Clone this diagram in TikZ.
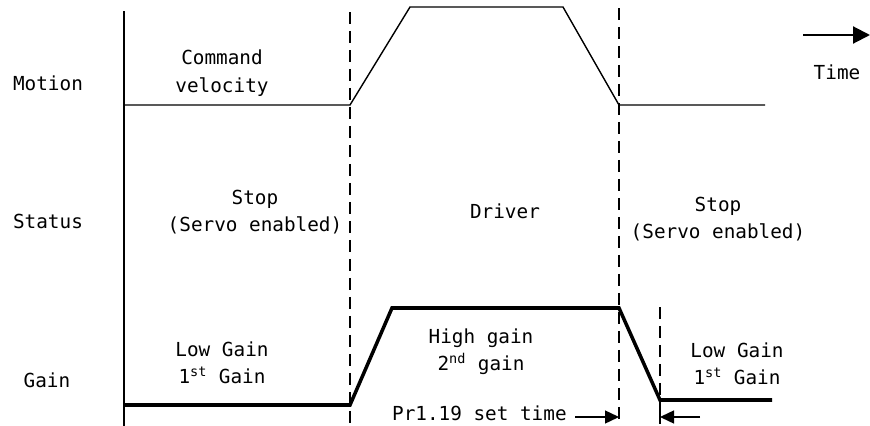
\documentclass[tikz,border=0pt]{standalone}
\usepackage{fontspec}
\setmainfont{DejaVu Sans Mono}
\usetikzlibrary{arrows.meta, positioning, calc}

\begin{document}
\begin{tikzpicture}[x=0.02cm, y=-0.02cm, font=\fontsize{11}{15.6}\selectfont,
  lb/.style={align=center, inner sep=0pt},
  ax/.style={line width=1.3pt},
  vel/.style={line width=0.8pt},
  gn/.style={line width=2pt},
  ph/.style={line width=1.5pt, dash pattern=on 0.24cm off 0.14cm},
  a/.style={-{Triangle[length=0.28cm, width=0.26cm]}, line width=0.8pt}]
  \useasboundingbox (0,0) rectangle (870,426);

  % row labels
  \node[lb] (mot) at (48,83) {Motion};
  \node[lb] (sta) at (48,221) {Status};
  \node[lb] (gai) at (47,380) {Gain};

  % phase borders
  \coordinate (ax0) at (124,11);
  \coordinate (ax1) at (124,426);
  \coordinate (p1a) at (350,12);
  \coordinate (p1b) at (350,424);
  \coordinate (p2a) at (619,8);
  \coordinate (p2b) at (619,424);
  \coordinate (p3a) at (660,307);
  \coordinate (p3b) at (660,400);
  \coordinate (p3c) at (660,424);
  \draw[ax] (ax0) -- (ax1);
  \draw[ph] (p1a) -- (p1b);
  \draw[ph] (p2a) -- (p2b);
  \draw[ph] (p3a) -- (p3b);
  \draw[vel] (p3b) -- (p3c);

  % command velocity
  \coordinate (v0) at (124,105);
  \coordinate (v1) at (350,105);
  \coordinate (v2) at (410,7);
  \coordinate (v3) at (563,7);
  \coordinate (v4) at (619,105);
  \coordinate (v5) at (765,105);
  \draw[vel] (v0) -- (v1) -- (v2) -- (v3) -- (v4) -- (v5);

  % gain
  \coordinate (g0) at (124,405);
  \coordinate (g1) at (350,405);
  \coordinate (g2) at (392,308);
  \coordinate (g3) at (619,308);
  \coordinate (g4) at (660,400);
  \coordinate (g5) at (772,400);
  \draw[gn] (g0) -- (g1) -- (g2) -- (g3) -- (g4) -- (g5);

  % texts
  \node[lb] (cmd) at (222,73) {Command\\velocity};
  \node[lb] (stp1) at (255,212) {Stop\\(Servo enabled)};
  \node[lb] (drv) at (505,211) {Driver};
  \node[lb] (stp2) at (718,219) {Stop\\(Servo enabled)};
  \node[lb] (lg1) at (222,363) {Low Gain\\1\textsuperscript{st} Gain};
  \node[lb] (hg) at (481,352) {High gain\\2\textsuperscript{nd} gain};
  \node[lb] (lg2) at (737,364) {Low Gain\\1\textsuperscript{st} Gain};
  \node[lb, anchor=east] (pr) at (567,413) {Pr1.19 set time};

  % set time arrows
  \coordinate (s0) at (575,417);
  \coordinate (s1) at (700,417);
  \draw[a] (s0) -- (s0 -| p2b);
  \draw[a] (s1) -- (s1 -| p3c);

  % time
  \coordinate (t0) at (803,35);
  \coordinate (t1) at (870,35);
  \draw[line width=1.2pt, -{Triangle[length=0.34cm, width=0.34cm]}] (t0) -- (t1);
  \node[lb] (tim) at (837,72) {Time};
\end{tikzpicture}
\end{document}
